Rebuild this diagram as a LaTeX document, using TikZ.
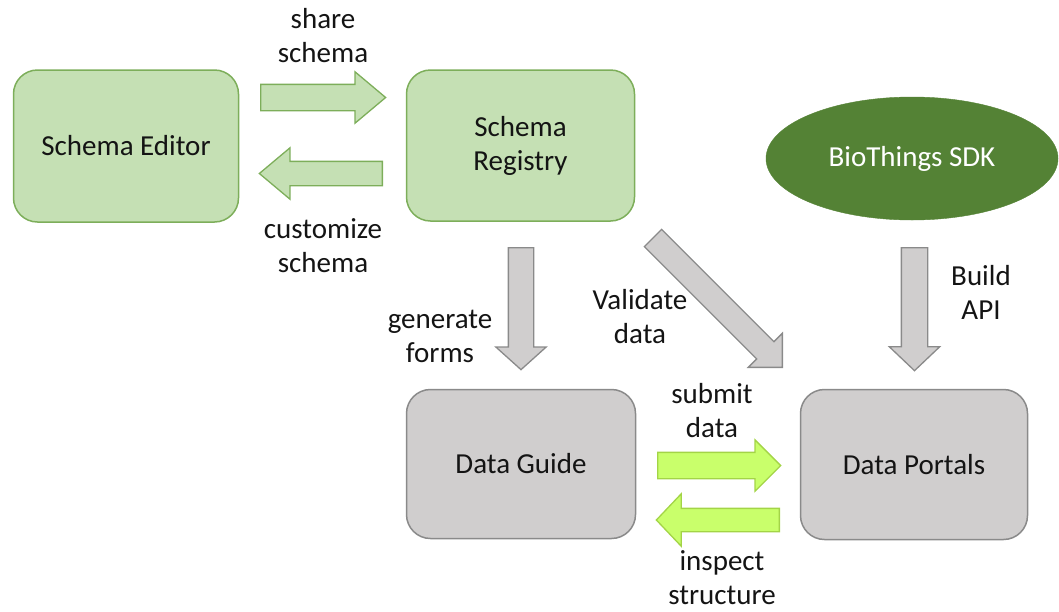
\documentclass[tikz,border=0pt]{standalone}
\usepackage{fontspec}
\setmainfont{Carlito}
\usetikzlibrary{shapes.arrows,shapes.geometric}
\definecolor{lgfill}{HTML}{C5E0B4}
\definecolor{lgdraw}{HTML}{7DAE5A}
\definecolor{gyfill}{HTML}{D0CECE}
\definecolor{gydraw}{HTML}{8A8A8A}
\definecolor{brfill}{HTML}{C9FF6B}
\definecolor{brdraw}{HTML}{A3D447}
\definecolor{dkgreen}{HTML}{548235}
\definecolor{txt}{HTML}{141414}
\tikzset{
  lbl/.style={font=\fontsize{29}{34}\selectfont, text=txt, align=center, inner sep=0pt},
  box/.style={draw, line width=1.5pt, rounded corners=24pt, font=\fontsize{29}{34}\selectfont, text=txt, align=center},
  greenbox/.style={box, fill=lgfill, draw=lgdraw},
  graybox/.style={box, fill=gyfill, draw=gydraw},
  blockarrow/.style={single arrow, line width=1.3pt, anchor=tail, inner xsep=0pt, minimum width=0pt},
  greenarrow/.style={blockarrow, fill=lgfill, draw=lgdraw},
  grayarrow/.style={blockarrow, fill=gyfill, draw=gydraw},
  brightarrow/.style={blockarrow, fill=brfill, draw=brdraw},
}
\begin{document}
\begin{tikzpicture}[x=1pt,y=-1pt]
\useasboundingbox (0,0) rectangle (1059,611);

% boxes
\node[greenbox, minimum width=225pt, minimum height=152pt] (editor) at (126,146) {Schema Editor};
\node[greenbox, minimum width=228pt, minimum height=151pt] (registry) at (520.5,145.5) {Schema\\Registry};
\node[graybox, minimum width=229pt, minimum height=149pt] (guide) at (521,464) {Data Guide};
\node[graybox, minimum width=227pt, minimum height=150pt] (portals) at (914,464.5) {Data Portals};
\node[ellipse, fill=dkgreen, draw=dkgreen, minimum width=292pt, minimum height=123pt, inner sep=0pt,
      font=\fontsize{29}{34}\selectfont, text=white] (sdk) at (912,158.5) {BioThings SDK};

% block arrows (tail positions)
\node[greenarrow, inner ysep=12.5pt, single arrow head extend=12.5pt, single arrow tip angle=80,
      minimum height=125pt] (share) at (260,97.5) {};
\node[greenarrow, rotate=180, inner ysep=11.5pt, single arrow head extend=13.5pt, single arrow tip angle=80,
      minimum height=123pt] (customize) at (383,173.5) {};
\node[grayarrow, rotate=-90, inner ysep=12pt, single arrow head extend=12.5pt, single arrow tip angle=96,
      minimum height=122pt] (generate) at (521,247) {};
\node[grayarrow, rotate=-45, inner ysep=11.5pt, single arrow head extend=12pt, single arrow tip angle=90,
      minimum height=183pt] (validate) at (652.5,237.5) {};
\node[grayarrow, rotate=-90, inner ysep=12.5pt, single arrow head extend=12pt, single arrow tip angle=93,
      minimum height=123pt] (build) at (914.5,247) {};
\node[brightarrow, inner ysep=12.5pt, single arrow head extend=12.5pt, single arrow tip angle=90,
      minimum height=123pt] (submit) at (657,465.5) {};
\node[brightarrow, rotate=180, inner ysep=11pt, single arrow head extend=14.5pt, single arrow tip angle=93,
      minimum height=123pt] (inspect) at (780,520) {};

% labels
\node[lbl] (lshare) at (323,36) {share\\schema};
\node[lbl] (lcustom) at (323,246) {customize\\schema};
\node[lbl] (lgen) at (440,336) {generate\\forms};
\node[lbl] (lval) at (640,317) {Validate\\data};
\node[lbl] (lbuild) at (981,292) {Build\\API};
\node[lbl] (lsubmit) at (712,411) {submit\\data};
\node[lbl] (linspect) at (722,578) {inspect\\structure};
\end{tikzpicture}
\end{document}
